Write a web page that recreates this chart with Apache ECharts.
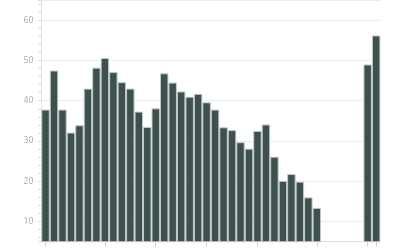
<!DOCTYPE html>
<html>
<head>
<meta charset="utf-8">
<script src="https://cdn.jsdelivr.net/npm/echarts@6/dist/echarts.min.js"></script>
<style>
html,body{margin:0;padding:0;background:#fff;}
#chart{width:400px;height:250px;}
</style>
</head>
<body>
<div id="chart"></div>
<script>
var categories = ['1','2','3','4','5','6','7','8','9','10','11','12','13','14','15','16','17','18','19','20','21','22','23','24','25','26','27','28','29','30','31','32','33','34','35','36','37','38','39','40'];
var values = [37.8, 47.5, 37.8, 32.1, 33.9, 43.0, 48.2, 50.6, 47.1, 44.6, 43.0, 37.3, 33.5, 38.1, 46.8, 44.5, 42.3, 41.0, 41.7, 39.6, 37.8, 33.4, 32.7, 29.7, 28.1, 32.5, 34.1, 26.1, 20.1, 21.8, 19.9, 16.0, 13.4, null, null, null, null, null, 49.0, 56.2];
var tickIndices = [0, 7, 13, 19, 25, 32, 38, 39];
var yMin = 5, yMax = 65;

var chart = echarts.init(document.getElementById('chart'));
chart.setOption({
  animation: false,
  grid: { left: 41.3, right: 19.6, top: -3, bottom: 8.3, containLabel: false },
  xAxis: {
    type: 'category',
    data: categories,
    boundaryGap: true,
    axisLine: { show: true, lineStyle: { color: '#dcdcdc', width: 1 } },
    axisTick: {
      show: true, alignWithLabel: true, length: 5,
      interval: function (i) { return tickIndices.indexOf(i) >= 0; },
      lineStyle: { color: '#d0d0d0' }
    },
    axisLabel: { show: false },
    splitLine: { show: false }
  },
  yAxis: {
    type: 'value',
    min: yMin,
    max: yMax,
    axisLine: { show: true, lineStyle: { color: '#e0e0e0' } },
    axisTick: { show: true, length: 3, lineStyle: { color: '#d8d8d8' } },
    minorTick: { show: true, splitNumber: 5, length: 3, lineStyle: { color: '#d8d8d8' } },
    axisLabel: {
      color: '#a3acaa', fontSize: 8.5, fontFamily: 'Open Sans', margin: 8,
      showMinLabel: false, showMaxLabel: false
    },
    splitLine: { show: true, lineStyle: { color: '#ececec' } }
  },
  series: [{
    type: 'bar',
    data: values,
    barCategoryGap: '0%',
    itemStyle: { color: '#3f514f', borderColor: '#c4cac9', borderWidth: 1 }
  }]
});
</script>
</body>
</html>
